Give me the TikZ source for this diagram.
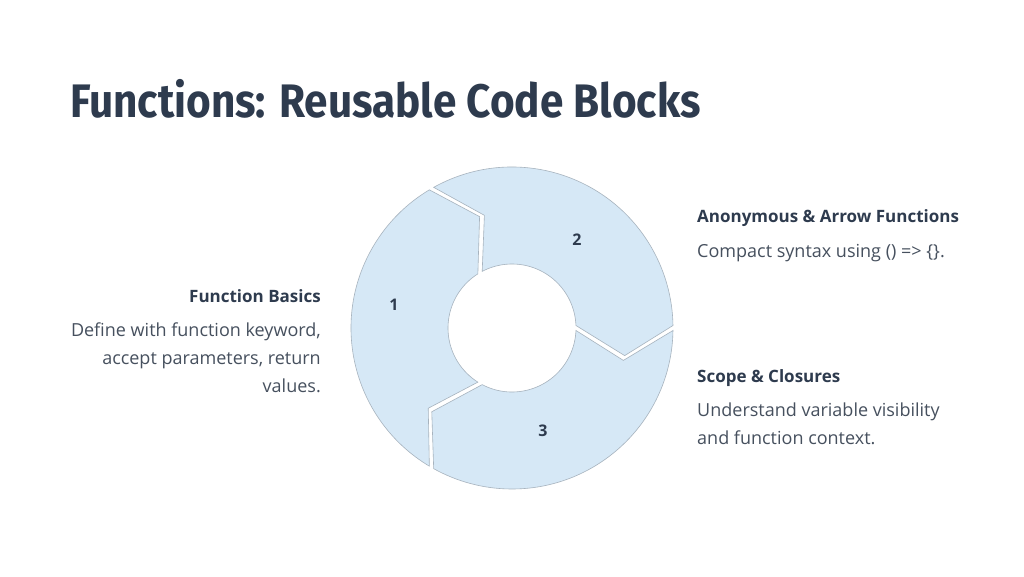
\documentclass[tikz,border=0pt]{standalone}
\usepackage{fontspec}
\setmainfont{Open Sans}
\newfontfamily\titlefont{Fira Sans}
\usepackage{tikz}
\usetikzlibrary{positioning}
\definecolor{ink}{HTML}{2E3B4E}
\definecolor{bodyink}{HTML}{46505E}
\definecolor{ringfill}{HTML}{D6E8F6}
\definecolor{ringline}{HTML}{A7B3BE}

\begin{document}
\begin{tikzpicture}[x=1pt,y=1pt,line join=miter,
    seg/.style={fill=ringfill, draw=ringline, line width=0.6pt},
    num/.style={font=\fontsize{16}{16}\selectfont\bfseries, text=ink},
    head/.style={font=\fontsize{17}{20}\selectfont\bfseries, text=ink, inner sep=0pt},
    desc/.style={font=\fontsize{18}{28}\selectfont, text=bodyink, inner sep=0pt}]
    \useasboundingbox[fill=white] (0,0) rectangle (1024,576);

    \node[anchor=base west, inner sep=0pt, text=ink,
          font=\titlefont\fontsize{47}{47}\selectfont\bfseries] (title) at (70,458.7)
          {\scalebox{0.9}[1]{Functions: Reusable Code Blocks}};

    % the ring, three arrow segments going clockwise
    \begin{scope}[shift={(512,248)}]
        \foreach \s/\e in {240/120, 120/0, 0/-120}
            \draw[seg] ({\s-0.89}:161) arc[start angle={\s-0.89}, end angle={\e+0.89}, radius=161]
                -- ({\e-13.77}:116) -- ({\e+2.24}:64)
                arc[start angle={\e+2.24}, end angle={\s-2.24}, radius=64]
                -- ({\s-16.23}:116) -- cycle;
        \node[num] (n1) at (-118,23) {1};
        \node[num] (n2) at (65,88) {2};
        \node[num] (n3) at (31,-103) {3};
    \end{scope}

    \node[head, anchor=base east] (basics) at (321,273.3) {Function Basics};
    \node[desc, align=right, below=90pt of basics.base east, anchor=base east] (basics-txt)
        {Define with function keyword,\\accept parameters, return\\values.};

    \node[head, anchor=base west] (arrow) at (697,353.5) {Anonymous \& Arrow Functions};
    \node[desc, align=left, below=35pt of arrow.base west, anchor=base west] (arrow-txt)
        {Compact syntax using () => \{\}.};

    \node[head, anchor=base west] (scope) at (697,193.5) {Scope \& Closures};
    \node[desc, align=left, below=62pt of scope.base west, anchor=base west] (scope-txt)
        {Understand variable visibility\\and function context.};
\end{tikzpicture}
\end{document}
